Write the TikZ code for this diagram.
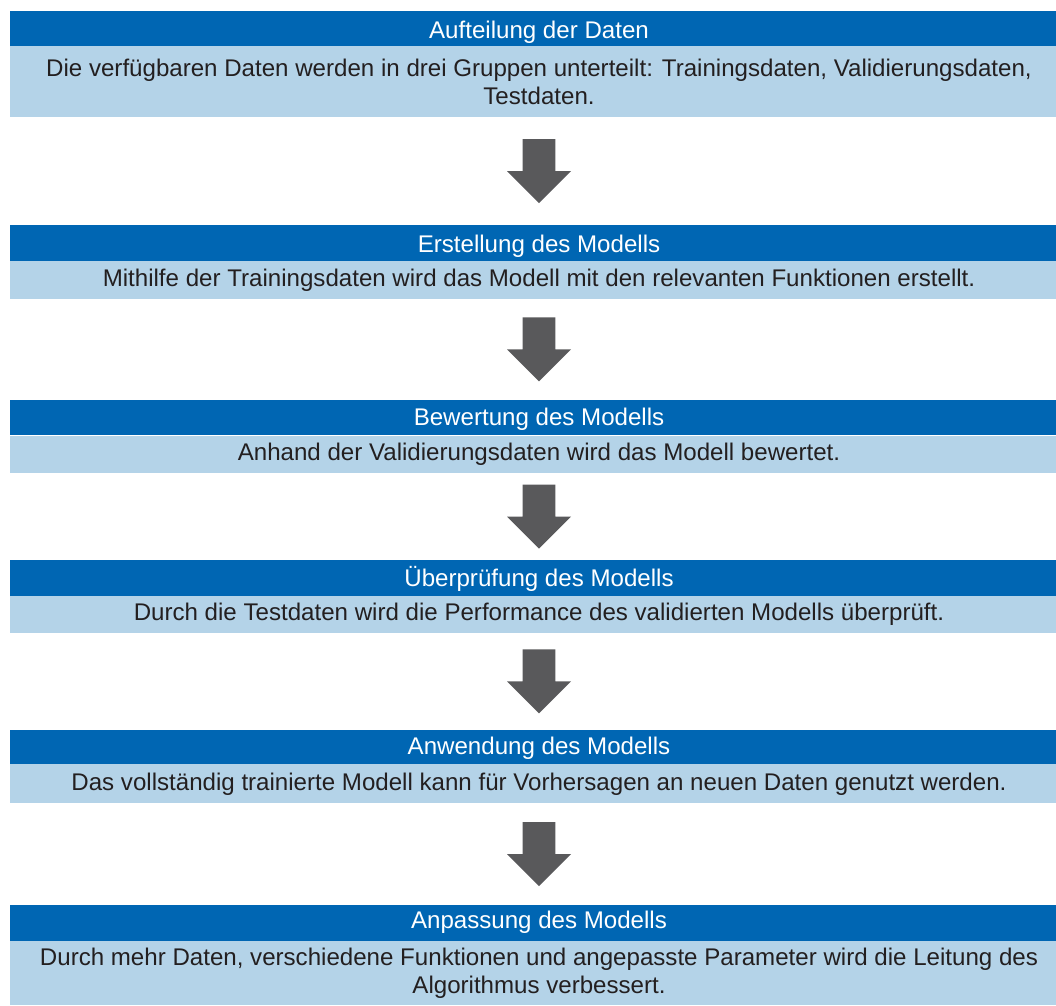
\documentclass[tikz,border=0pt]{standalone}
\usepackage{fontspec}
\setmainfont{Liberation Sans}
\usetikzlibrary{calc}
\definecolor{hdrblue}{RGB}{0,102,179}
\definecolor{bodyblue}{RGB}{180,211,232}
\definecolor{arrgrey}{RGB}{89,89,91}
\definecolor{txt}{RGB}{35,31,32}
\tikzset{
  hdr/.style={rectangle, fill=hdrblue, text=white, minimum width=1058pt, inner sep=0pt, text depth=5pt, font=\fontsize{24.1}{28.4}\selectfont},
  bodybox/.style={rectangle, fill=bodyblue, text=txt, minimum width=1058pt, inner sep=0pt, align=center, font=\fontsize{24.1}{28.4}\selectfont},
  downarrow/.pic={\fill[arrgrey] (-16.3,-32) -- (16.3,-32) -- (16.3,0) -- (32,0) -- (0,32) -- (-32,0) -- (-16.3,0) -- cycle;}
}
\begin{document}
\begin{tikzpicture}[x=1pt,y=-1pt]
\useasboundingbox (0,0) rectangle (1056,1005);
% box 1
\node[hdr, minimum height=34.7pt, text height=25pt] (h1) at (539,28.35) {Aufteilung der Daten};
\node[bodybox, minimum height=71pt, anchor=north] (b1) at (h1.south) {Die verfügbaren Daten werden in drei Gruppen unterteilt: Trainingsdaten, Validierungsdaten,\\Testdaten.};
% box 2
\node[hdr, minimum height=35.7pt, text height=25pt] (h2) at (539,242.85) {Erstellung des Modells};
\node[bodybox, minimum height=38pt, anchor=north] (b2) at (h2.south) {Mithilfe der Trainingsdaten wird das Modell mit den relevanten Funktionen erstellt.};
% box 3
\node[hdr, minimum height=35.7pt, text height=21pt] (h3) at (539,417.5) {Bewertung des Modells};
\node[bodybox, minimum height=37.7pt, anchor=north] (b3) at (h3.south) {Anhand der Validierungsdaten wird das Modell bewertet.};
% box 4
\node[hdr, minimum height=35.9pt, text height=22pt] (h4) at (539,577.7) {Überprüfung des Modells};
\node[bodybox, minimum height=37pt, anchor=north] (b4) at (h4.south) {Durch die Testdaten wird die Performance des validierten Modells überprüft.};
% box 5
\node[hdr, minimum height=34.3pt, text height=21pt] (h5) at (539,746.85) {Anwendung des Modells};
\node[bodybox, minimum height=38.7pt, anchor=north] (b5) at (h5.south) {Das vollständig trainierte Modell kann für Vorhersagen an neuen Daten genutzt werden.};
% box 6
\node[hdr, minimum height=36pt, text height=16pt] (h6) at (539,923) {Anpassung des Modells};
\node[bodybox, minimum height=64pt, anchor=north] (b6) at (h6.south) {Durch mehr Daten, verschiedene Funktionen und angepasste Parameter wird die Leitung des\\Algorithmus verbessert.};
% arrows
\foreach \a/\b in {b1/h2,b2/h3,b3/h4,b4/h5,b5/h6}{
  \coordinate (m\a) at ($(\a.south)!0.5!(\b.north)$);
  \path (m\a) pic {downarrow};
}
\end{tikzpicture}
\end{document}
